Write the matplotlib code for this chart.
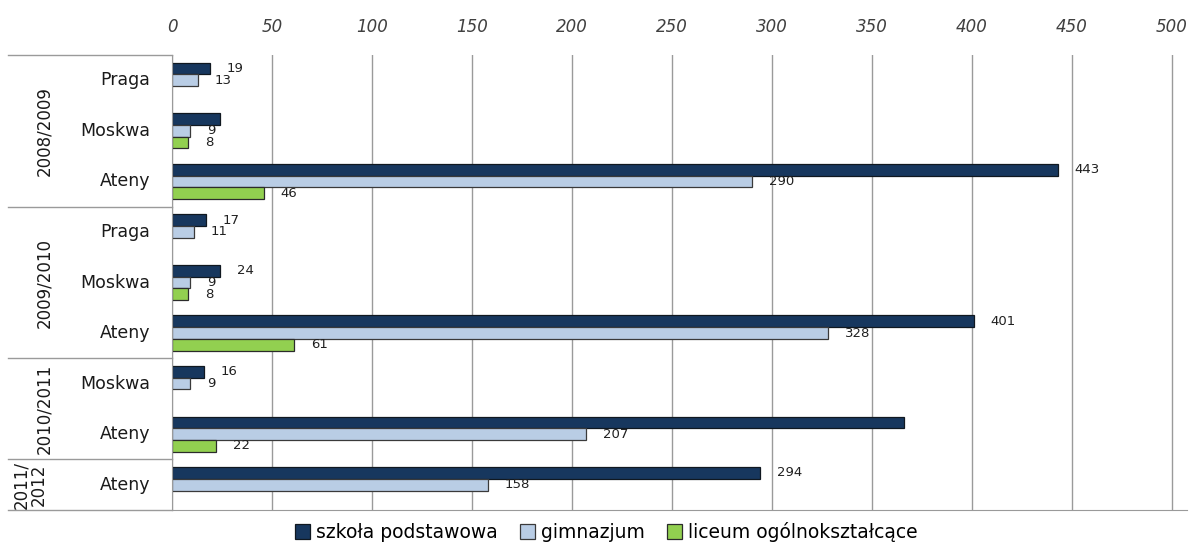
import matplotlib.pyplot as plt
import matplotlib.transforms as mtrans
import numpy as np

# categories (top to bottom)
years = ["2008/2009", "2009/2010", "2010/2011", "2011/\n2012"]
year_rows = [3, 3, 2, 1]  # how many cities in each year block
cities = ["Praga", "Moskwa", "Ateny",
          "Praga", "Moskwa", "Ateny",
          "Moskwa", "Ateny",
          "Ateny"]

# values (None = no bar)
szkola = [19, 24, 443, 17, 24, 401, 16, 366, 294]
gimnazjum = [13, 9, 290, 11, 9, 328, 9, 207, 158]
liceum = [None, 8, 46, None, 8, 61, None, 22, None]

# bars whose value label is not shown in the original
szkola_nolabel = [1, 7]

series_names = ["szkoła podstawowa", "gimnazjum", "liceum ogólnokształcące"]
colors = ["#17375E", "#B9CDE5", "#92D050"]
edges = ["#101820", "#3a3a3a", "#2b2b2b"]
xticks = [0, 50, 100, 150, 200, 250, 300, 350, 400, 450, 500]

W, H = 1201, 549
fig = plt.figure(figsize=(W / 100, H / 100), dpi=100)
ax = fig.add_axes([172 / W, 1 - 510 / H, 1015 / W, 455 / H])

y = np.arange(len(cities))
bh = 0.232
all_series = [szkola, gimnazjum, liceum]
for k, vals in enumerate(all_series):
    offs = (k - 1) * bh
    first = [j for j, vv in enumerate(vals) if vv is not None][0]
    for i, v in enumerate(vals):
        if v is None:
            continue
        ax.barh(y[i] + offs, v, height=bh, color=colors[k], edgecolor=edges[k],
                linewidth=0.9, zorder=3,
                label=series_names[k] if i == first else None)
        if k == 0 and i in szkola_nolabel:
            continue
        ax.annotate(str(v), (v, y[i] + offs), xytext=(12, 0), textcoords="offset points",
                    ha="left", va="center", fontsize=9.5, color="#202020", zorder=4)

ax.set_xlim(0, 507.5)
ax.set_ylim(len(cities) - 0.5, -0.5)
ax.set_xticks(xticks)
ax.xaxis.tick_top()
ax.tick_params(axis="x", length=0, pad=14, labelsize=12, labelcolor="#404040")
for t in ax.get_xticklabels():
    t.set_fontstyle("italic")
ax.set_yticks([])
ax.grid(axis="x", color="#9a9a9a", linewidth=1, zorder=0)
for s in ["top", "right"]:
    ax.spines[s].set_visible(False)
ax.spines["left"].set_color("#9a9a9a")
ax.spines["bottom"].set_color("#9a9a9a")
ax.spines["left"].set_zorder(5)

# category table on the left
tr = mtrans.blended_transform_factory(fig.transFigure, ax.transData)
x_left = 8 / W
x_axis = 172 / W
for i, c in enumerate(cities):
    ax.text(150 / W, y[i], c, transform=tr, ha="right", va="center",
            fontsize=12.5, color="#1a1a1a")

start = 0
boundaries = [-0.5]
for yr, n in zip(years, year_rows):
    mid = start + (n - 1) / 2
    xpos = 44 / W if "\n" not in yr else 30 / W
    ax.text(xpos, mid, yr, transform=tr, rotation=90, ha="center", va="center",
            fontsize=12, color="#1a1a1a", linespacing=1.0, multialignment="center")
    start += n
    boundaries.append(start - 0.5)

for b in boundaries:
    ax.plot([x_left, x_axis], [b, b], transform=tr, color="#9a9a9a", lw=1, clip_on=False)

fig.legend(loc="lower center", bbox_to_anchor=(0.505, -0.018), ncol=3, frameon=False,
           handlelength=0.8, handleheight=0.8, handletextpad=0.3,
           columnspacing=1.2, prop={"size": 13.5})

fig.savefig("out.png", dpi=100)
